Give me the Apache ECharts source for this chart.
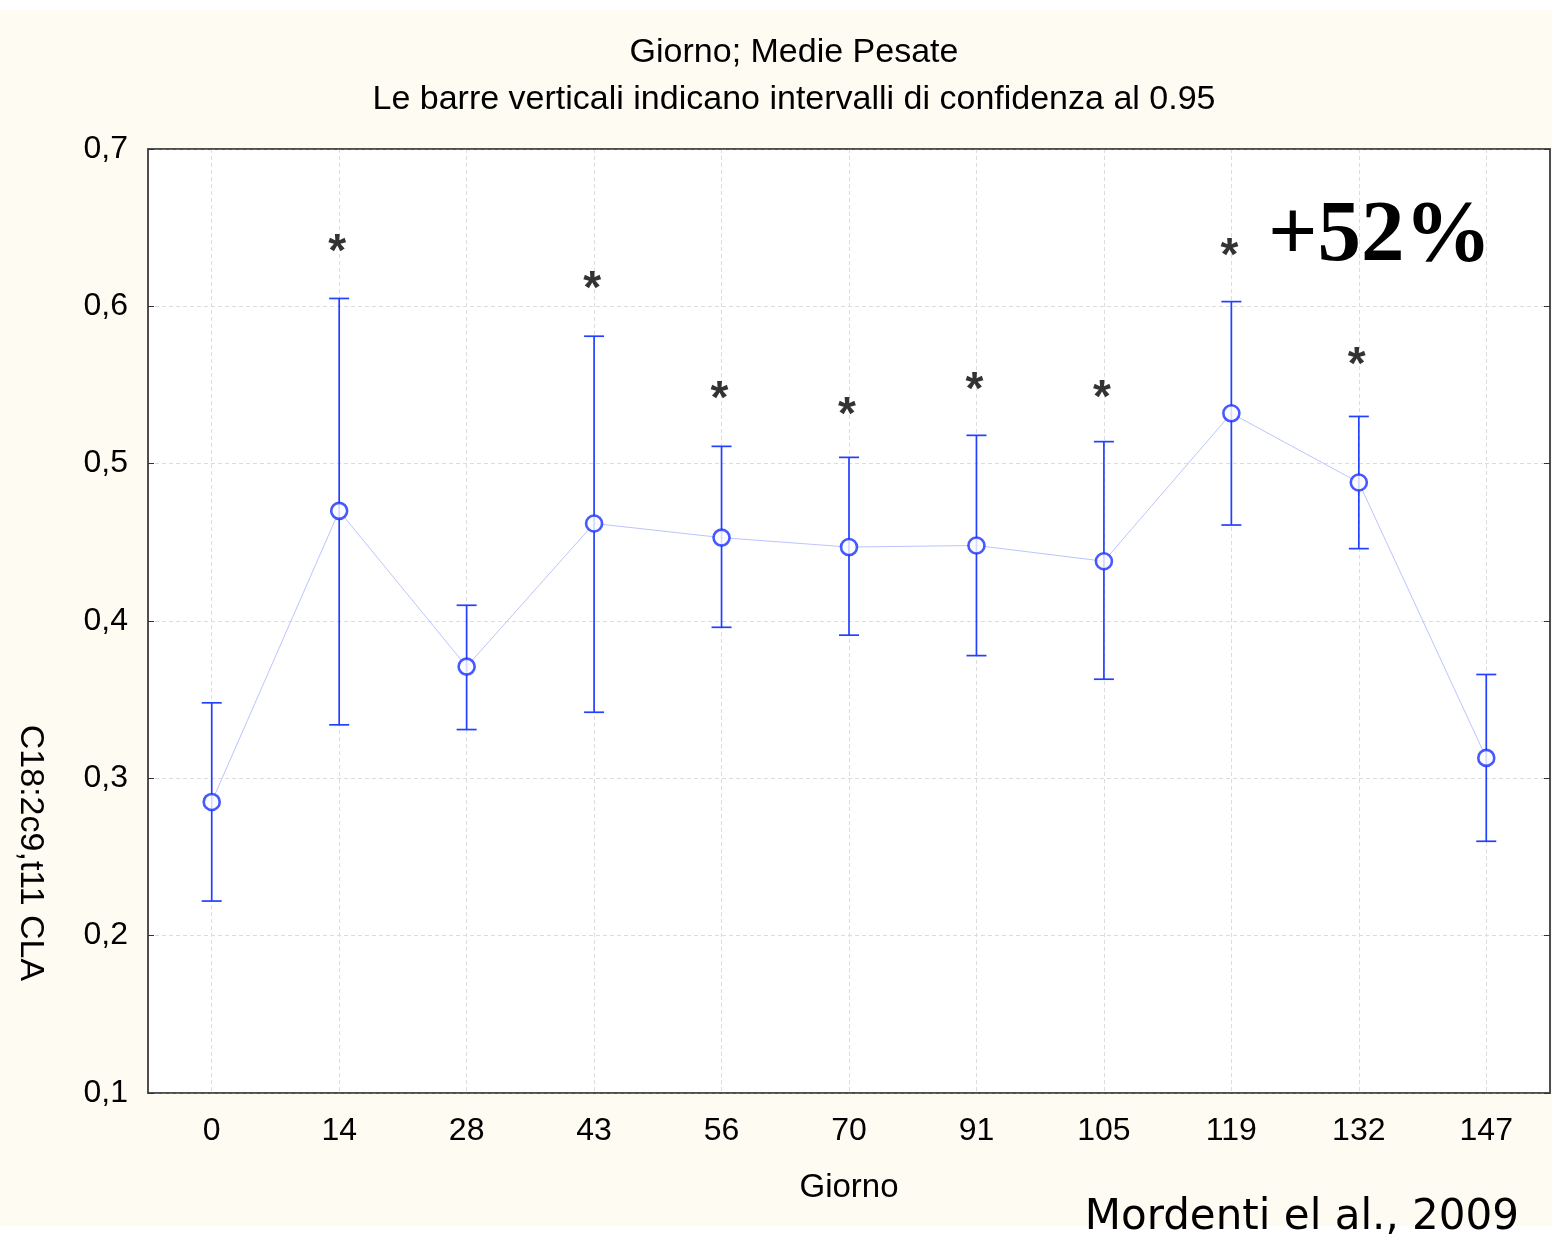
<!DOCTYPE html>
<html lang="it">
<head>
<meta charset="UTF-8">
<title>Giorno; Medie Pesate</title>
<style>
  html, body { margin: 0; padding: 0; background: #ffffff; }
  #chart { width: 1559px; height: 1239px; }
</style>
</head>
<body>
<div id="chart"></div>
<script src="https://cdn.jsdelivr.net/npm/echarts@6/dist/echarts.min.js"></script>
<script>
// giorni di campionamento
var giorni = ['0', '14', '28', '43', '56', '70', '91', '105', '119', '132', '147'];
// medie pesate e limiti dell'intervallo di confidenza al 0.95
var medie = [0.285, 0.470, 0.371, 0.462, 0.453, 0.447, 0.448, 0.438, 0.532, 0.488, 0.313];
var inferiori = [0.222, 0.334, 0.331, 0.342, 0.396, 0.391, 0.378, 0.363, 0.461, 0.446, 0.260];
var superiori = [0.348, 0.605, 0.410, 0.581, 0.511, 0.504, 0.518, 0.514, 0.603, 0.530, 0.366];
// asterischi (differenza significativa): giorno e altezza
var asteriscoGiorni = ['14', '43', '56', '70', '91', '105', '119', '132'];
var asteriscoY = [0.641, 0.617, 0.547, 0.537, 0.553, 0.548, 0.638, 0.569];
var yTicks = [0.1, 0.2, 0.3, 0.4, 0.5, 0.6, 0.7];

var blu = '#2440ff';
var sans = '"Liberation Sans", Arial, sans-serif';

var barre = giorni.map(function (g, i) { return [i, inferiori[i], superiori[i]]; });
var asterischi = asteriscoGiorni.map(function (g, i) { return [g, asteriscoY[i]]; });

var chart = echarts.init(document.getElementById('chart'));

var option = {
  backgroundColor: '#ffffff',
  animation: false,
  title: {
    text: 'Giorno; Medie Pesate\nLe barre verticali indicano intervalli di confidenza al 0.95',
    left: 789,
    textAlign: 'center',
    top: 24,
    textStyle: { fontFamily: sans, fontSize: 34, fontWeight: 'normal', color: '#000', lineHeight: 47 }
  },
  graphic: [
    { type: 'rect', z: -10, silent: true, shape: { x: 0, y: 10, width: 1552, height: 1216 }, style: { fill: '#fefbf2' } },
    { type: 'text', z: 100, x: 30, y: 853, rotation: -Math.PI / 2,
      style: { text: 'C18:2c9,t11 CLA', fontFamily: sans, fontSize: 34, fill: '#000', align: 'center', verticalAlign: 'middle' } },
    { type: 'text', z: 100, x: 1268, y: 238,
      style: { text: '+52%', fontFamily: '"Liberation Serif", "Times New Roman", serif', fontWeight: 'bold', fontSize: 87, fill: '#000', align: 'left', verticalAlign: 'middle' } },
    { type: 'text', z: 100, x: 1519, y: 1218,
      style: { text: 'Mordenti el al., 2009', fontFamily: '"DejaVu Sans", Verdana, sans-serif', fontSize: 42, fill: '#000', align: 'right', verticalAlign: 'middle' } }
  ],
  grid: {
    left: 148, right: 9, top: 149, bottom: 146,
    show: true, backgroundColor: '#ffffff', borderColor: '#444', borderWidth: 1.5
  },
  xAxis: [{
    type: 'category',
    data: giorni,
    boundaryGap: true,
    name: 'Giorno',
    nameLocation: 'middle',
    nameGap: 78,
    nameTextStyle: { fontFamily: sans, fontSize: 33, color: '#000' },
    axisLine: { lineStyle: { color: '#444', width: 1.5 } },
    axisTick: { inside: true, alignWithLabel: true, length: 6, lineStyle: { color: '#333' } },
    axisLabel: { fontFamily: sans, fontSize: 32, color: '#000', margin: 22, interval: 0 },
    splitLine: { show: true, alignWithLabel: true, lineStyle: { color: '#dcdcdc', type: [4, 3] } }
  }, {
    type: 'category',
    data: giorni,
    position: 'top',
    boundaryGap: true,
    axisLine: { lineStyle: { color: '#444', width: 1.5 } },
    axisTick: { inside: true, alignWithLabel: true, length: 6, lineStyle: { color: '#333' } },
    axisLabel: { show: false },
    splitLine: { show: false }
  }],
  yAxis: [{
    type: 'value',
    min: 0.1, max: 0.7, interval: 0.1,
    axisLine: { show: true, lineStyle: { color: '#444', width: 1.5 } },
    axisTick: { show: true, inside: true, length: 6, lineStyle: { color: '#333' } },
    axisLabel: {
      fontFamily: sans, fontSize: 32, color: '#000', margin: 20,
      formatter: function (v) { return v.toFixed(1).replace('.', ','); }
    },
    splitLine: { show: true, lineStyle: { color: '#dcdcdc', type: [4, 3] } }
  }, {
    type: 'value',
    position: 'right',
    min: 0.1, max: 0.7, interval: 0.1,
    axisLine: { show: true, lineStyle: { color: '#444', width: 1.5 } },
    axisTick: { show: true, inside: true, length: 6, lineStyle: { color: '#333' } },
    axisLabel: { show: false },
    splitLine: { show: false }
  }],
  series: [
    {
      type: 'line',
      data: medie,
      z: 3,
      lineStyle: { color: '#bcc4ff', width: 1 },
      symbol: 'none'
    },
    {
      type: 'custom',
      z: 4,
      data: barre,
      renderItem: function (params, api) {
        var x = api.value(0);
        var top = api.coord([x, api.value(2)]);
        var bot = api.coord([x, api.value(1)]);
        var w = 10;
        var st = { stroke: blu, lineWidth: 1.7 };
        return {
          type: 'group',
          children: [
            { type: 'line', shape: { x1: top[0], y1: top[1], x2: bot[0], y2: bot[1] }, style: st },
            { type: 'line', shape: { x1: top[0] - w, y1: top[1], x2: top[0] + w, y2: top[1] }, style: st },
            { type: 'line', shape: { x1: bot[0] - w, y1: bot[1], x2: bot[0] + w, y2: bot[1] }, style: st }
          ]
        };
      }
    },
    {
      type: 'scatter',
      z: 5,
      data: medie,
      symbol: 'circle',
      symbolSize: 16,
      itemStyle: { color: '#ffffff', borderColor: '#1a30ff', borderWidth: 2.6 }
    },
    {
      type: 'scatter',
      z: 6,
      data: asterischi,
      symbolSize: 2,
      itemStyle: { color: 'rgba(0,0,0,0)' },
      label: {
        show: true,
        position: 'inside',
        formatter: '*',
        fontFamily: '"Liberation Sans", Arial, sans-serif',
        fontWeight: 'bold',
        fontSize: 46,
        color: '#000',
        textBorderWidth: 0,
        offset: [-2, 11]
      }
    }
  ]
};

chart.setOption(option);
</script>
</body>
</html>
